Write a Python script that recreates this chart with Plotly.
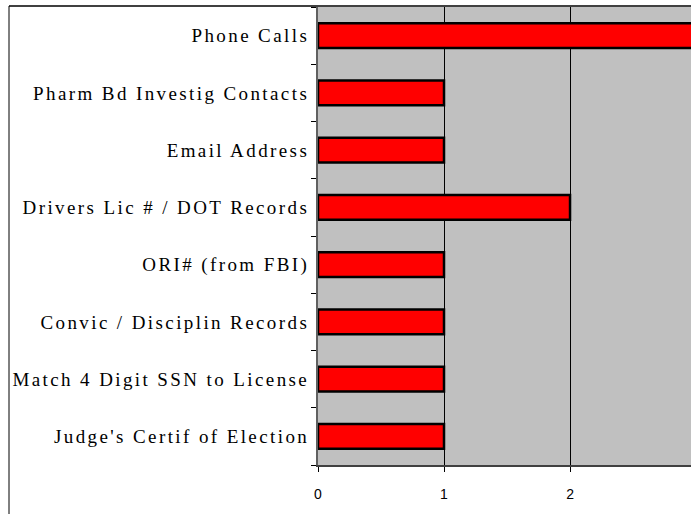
import plotly.graph_objects as go

categories = [
    "Phone Calls",
    "Pharm Bd Investig Contacts",
    "Email Address",
    "Drivers Lic # / DOT Records",
    "ORI# (from FBI)",
    "Convic / Disciplin Records",
    "Match 4 Digit SSN to License",
    "Judge's Certif of Election",
]
values = [3, 1, 1, 2, 1, 1, 1, 1]
x_ticks = [0, 1, 2]

labels = ['<span style="letter-spacing:2.4px">%s</span>' % c for c in categories]

fig = go.Figure(
    go.Bar(
        x=values,
        y=categories,
        orientation="h",
        marker=dict(color="#FF0000", line=dict(color="black", width=2.5)),
    )
)

W, H = 691, 514
left, top, bottom = 318, 7, 49
fig.update_layout(
    width=W,
    height=H,
    margin=dict(l=left, r=0, t=top, b=bottom, pad=0),
    paper_bgcolor="white",
    plot_bgcolor="#C0C0C0",
    bargap=0.57,
    showlegend=False,
    xaxis=dict(
        range=[0, 2.96],
        tickvals=x_ticks,
        ticks="outside",
        ticklen=5,
        tickcolor="black",
        showgrid=True,
        gridcolor="black",
        gridwidth=1,
        zeroline=False,
        showline=True,
        linecolor="#404040",
        linewidth=2,
        tickfont=dict(family="Liberation Sans", size=14, color="black"),
        ticklabelstandoff=10,
        fixedrange=True,
    ),
    yaxis=dict(
        autorange="reversed",
        tickmode="array",
        tickvals=categories,
        ticktext=labels,
        ticks="outside",
        tickson="boundaries",
        ticklen=5,
        tickcolor="black",
        showgrid=False,
        showline=True,
        linecolor="#606060",
        linewidth=2,
        tickfont=dict(family="Liberation Serif", size=19, color="black"),
        ticklabelstandoff=3,
        fixedrange=True,
    ),
    shapes=[
        dict(type="line", xref="paper", yref="paper",
             x0=(9 - left) / (W - left), x1=1.05,
             y0=1 + 1 / (H - top - bottom), y1=1 + 1 / (H - top - bottom),
             line=dict(color="#404040", width=2), layer="above"),
        dict(type="line", xref="paper", yref="paper",
             x0=(9 - left) / (W - left), x1=(9 - left) / (W - left),
             y0=1 + 1 / (H - top - bottom), y1=-0.2,
             line=dict(color="black", width=1), layer="above"),
    ],
)

fig.write_html(
    "out.html",
    config={"displayModeBar": False},
    post_script="document.body.style.margin='0px';document.body.style.overflow='hidden';",
)
